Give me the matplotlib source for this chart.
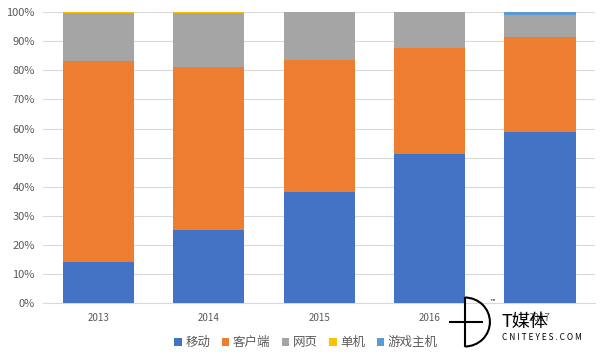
import matplotlib
matplotlib.use("Agg")
import matplotlib.pyplot as plt
import numpy as np
from matplotlib.patches import Arc

plt.rcParams['font.family'] = ['Noto Sans CJK SC', 'DejaVu Sans']

years = ['2013', '2014', '2015', '2016', '2017']
series_names = ['移动', '客户端', '网页', '单机', '游戏主机']
mobile = [14.1, 25.1, 38.1, 51.2, 58.8]
client = [69.1, 56.0, 45.4, 36.4, 32.6]
web = [16.5, 18.6, 16.4, 12.3, 7.6]
single = [0.3, 0.3, 0.1, 0.1, 0.1]
console = [0.0, 0.0, 0.0, 0.0, 0.9]
colors = ['#4472C4', '#ED7D31', '#A5A5A5', '#FFC000', '#5B9BD5']

fig = plt.figure(figsize=(6, 3.57), dpi=100)
ax = fig.add_axes([0.072, 0.151, 0.92, 0.815])

x = np.arange(len(years))
bottom = np.zeros(len(years))
handles = []
for name, vals, c in zip(series_names, [mobile, client, web, single, console], colors):
    vals = np.array(vals)
    h = ax.bar(x, vals, 0.645, bottom=bottom, color=c, label=name, zorder=3)
    handles.append(h)
    bottom += vals

ax.set_xlim(-0.5, 4.5)
ax.set_ylim(0, 100)
ax.set_yticks(np.arange(0, 101, 10))
ax.set_yticklabels([f'{v}%' for v in range(0, 101, 10)])
ax.set_xticks(x)
ax.set_xticklabels(years)
ax.grid(axis='y', color='#D9D9D9', linewidth=0.8, zorder=0)
for s in ['top', 'right', 'left']:
    ax.spines[s].set_visible(False)
ax.spines['bottom'].set_color('#D9D9D9')
ax.tick_params(axis='both', length=0, colors='#595959')
ax.tick_params(axis='y', labelsize=8, pad=6)
ax.tick_params(axis='x', labelsize=7, pad=7)

leg = fig.legend(handles=handles, labels=series_names, loc='center', bbox_to_anchor=(0.51, 0.04),
                 ncol=5, frameon=False, fontsize=9, handlelength=0.6, handleheight=0.6,
                 handletextpad=0.3, columnspacing=0.9, labelcolor='#595959')

# watermark
fig.text(0.835, 0.098, 'T媒体', fontsize=13, color='black', ha='left', va='center', zorder=10)
fig.text(0.836, 0.054, 'C N I T E Y E S . C O M', fontsize=6, color='black', ha='left', va='center', zorder=10)
arc = Arc((0.775, 0.098), 0.083, 0.137, theta1=-90, theta2=90, transform=fig.transFigure,
          color='black', linewidth=1.5)
fig.add_artist(arc)
fig.add_artist(plt.Line2D([0.775, 0.775], [0.03, 0.166], transform=fig.transFigure, color='black', lw=1.5))
fig.add_artist(plt.Line2D([0.75, 0.803], [0.098, 0.098], transform=fig.transFigure, color='black', lw=1.5))
fig.text(0.818, 0.155, '™', fontsize=4, color='black')

fig.savefig('out.png', dpi=100)
